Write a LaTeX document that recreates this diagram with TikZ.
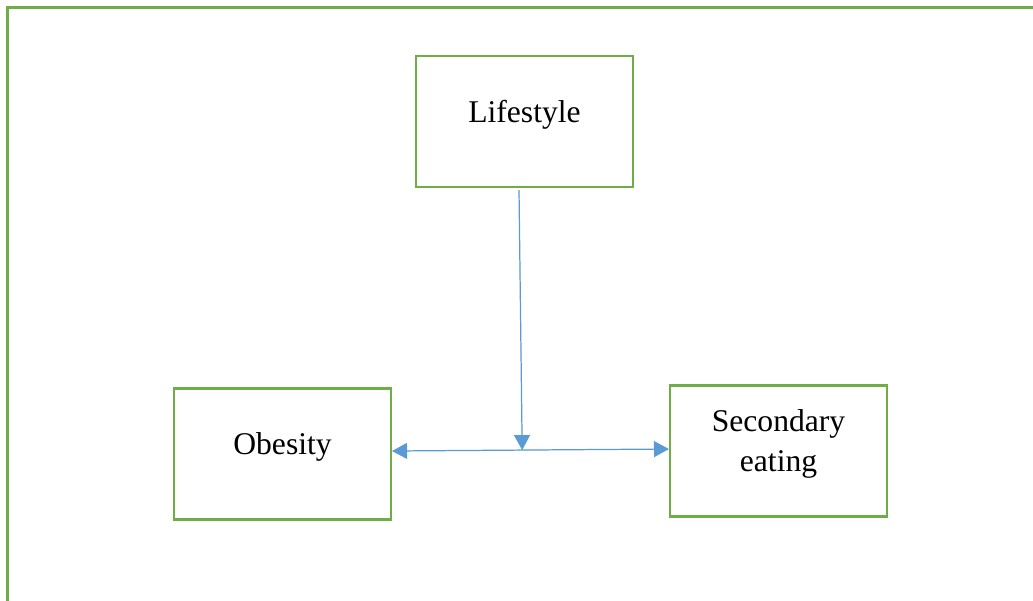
\documentclass[tikz,border=0pt]{standalone}
\usepackage{fontspec}
\setmainfont{Liberation Serif}
\usepackage{tikz}
\usetikzlibrary{positioning, arrows.meta}
\usepackage{xcolor}
\definecolor{boxgreen}{HTML}{70AD47}
\definecolor{linkblue}{HTML}{5B9BD5}

\begin{document}
\begin{tikzpicture}[
    x=0.02cm, y=-0.02cm,
    box/.style={rectangle, draw=boxgreen, line width=1.2pt, fill=white, minimum width=4.34cm, minimum height=2.62cm, align=center, font=\fontsize{18}{22.5}\selectfont, text depth=12pt, inner sep=0pt},
    tip/.style={Triangle[length=0.3cm, width=0.32cm]},
    arrow/.style={-{Triangle[length=0.3cm, width=0.32cm]}, line width=0.7pt, draw=linkblue, fill=linkblue},
    frame/.style={draw=boxgreen, line width=1.4pt}
]

% Page
\clip (0,0) rectangle (1033,600);
\draw [frame] (7.5,7.5) rectangle (1100,700);

% Lifestyle
\node (life) [box] at (524.5,121.5) {Lifestyle};

% Obesity
\node (obes) [box] at (282.5,454) {Obesity};

% Secondary eating
\node (second) [box] at (778.5,451) {Secondary\\eating};

% Connecting Arrows
\draw [arrow, {Triangle[length=0.3cm, width=0.32cm]}-{Triangle[length=0.3cm, width=0.32cm]}] ([yshift=0.06cm]obes.east) -- coordinate[pos=0.47] (mid) ([yshift=0.04cm]second.west);
\draw [arrow] ([xshift=-0.11cm, yshift=-0.04cm]life.south) -- (mid);

\end{tikzpicture}
\end{document}
